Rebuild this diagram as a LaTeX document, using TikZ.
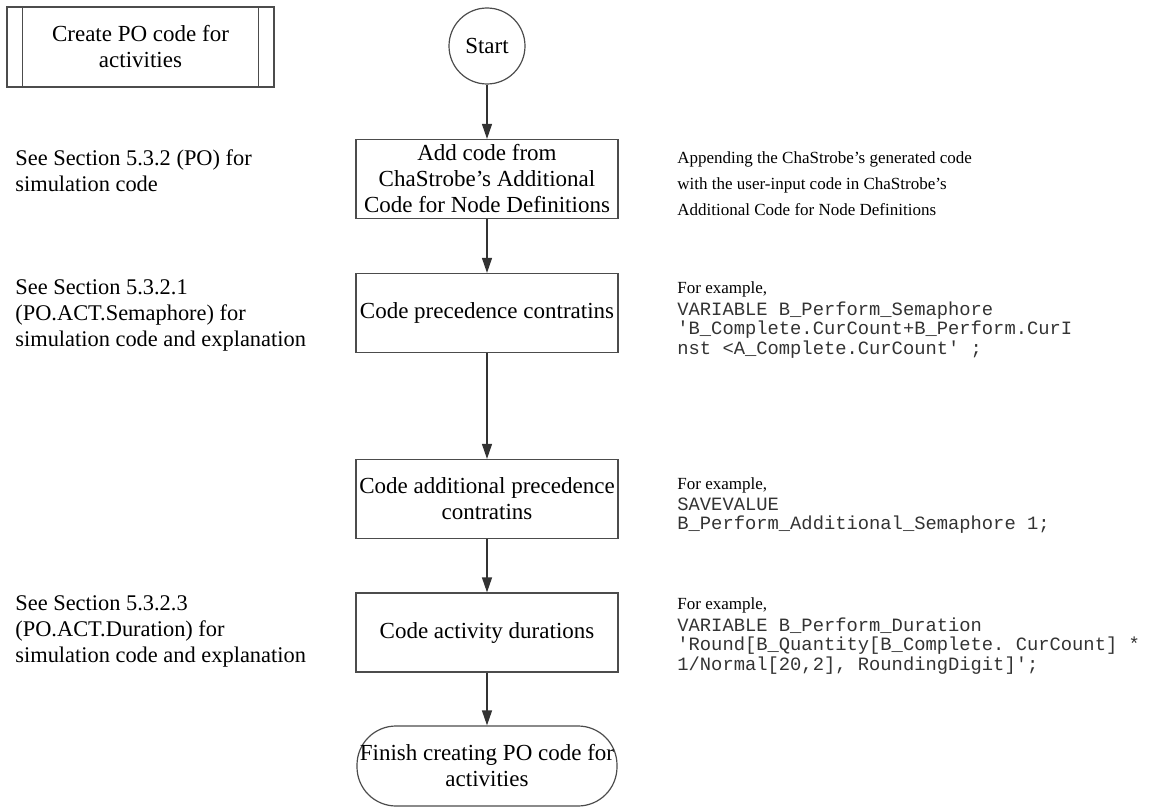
\documentclass[tikz,border=0pt]{standalone}
\usepackage{fontspec}
\setmainfont{Liberation Serif}
\setmonofont{Liberation Mono}
\usetikzlibrary{arrows.meta,positioning}

\newcommand{\boxfont}{\fontsize{11.5}{13}\selectfont}
\newcommand{\sidefont}{\fontsize{11.2}{13}\selectfont}
\newcommand{\notefont}{\fontsize{8.5}{13}\selectfont}
\newcommand{\listingfont}{\fontsize{9.4}{9.8}\selectfont\ttfamily}

\tikzset{
	line/.style={draw=black!70, line width=0.6pt},
	process/.style={line, rectangle, minimum width=131pt, minimum height=39.5pt, align=center, inner xsep=1pt, inner ysep=0pt, font=\boxfont},
	terminal/.style={line, rectangle, rounded corners=19.5pt, minimum width=130pt, minimum height=40pt, align=center, inner xsep=0pt, inner ysep=0pt, font=\boxfont},
	predef/.style={line, rectangle, minimum width=133.5pt, minimum height=40pt, align=center, font=\boxfont},
	startnode/.style={line, circle, minimum size=38pt, inner sep=0pt, font=\boxfont},
	sidenote/.style={anchor=north west, align=left, inner sep=0pt, font=\sidefont},
	note/.style={anchor=north west, align=left, inner sep=0pt, font=\notefont},
	listing/.style={anchor=north west, align=left, inner sep=0pt, text=black!80, font=\listingfont},
	arrow/.style={draw=black!80, line width=0.6pt, -{Triangle[length=7.5pt,width=5pt]}}
}

\begin{document}
\begin{tikzpicture}[x=0.5pt, y=-0.5pt]
	\useasboundingbox (0,0) rectangle (1152,808);

	% predefined process at the top left
	\node[predef] (pp) at (140.5,47) {Create PO code for\\activities};
	\draw[line] ([xshift=8pt]pp.north west) -- ([xshift=8pt]pp.south west);
	\draw[line] ([xshift=-8pt]pp.north east) -- ([xshift=-8pt]pp.south east);

	% main flow
	\node[startnode] (start) at (487,46) {Start};
	\node[process] (add) at (487,179) {Add code from\\ChaStrobe’s Additional\\Code for Node Definitions};
	\node[process] (prec) at (487,313) {Code precedence contratins};
	\node[process] (addprec) at (487,499) {Code additional precedence\\contratins};
	\node[process] (dur) at (487,632.5) {Code activity durations};
	\node[terminal] (finish) at (487,766) {Finish creating PO code for\\activities};

	\draw[arrow] (start) -- (add);
	\draw[arrow] (add) -- (prec);
	\draw[arrow] (prec) -- (addprec);
	\draw[arrow] (addprec) -- (dur);
	\draw[arrow] (dur) -- (finish);

	% references on the left
	\node[sidenote] (see1) at (15,149) {See Section 5.3.2 (PO) for\\simulation code};
	\node[sidenote] (see2) at (15,279) {See Section 5.3.2.1\\(PO.ACT.Semaphore) for\\simulation code and explanation};
	\node[sidenote] (see3) at (15,595) {See Section 5.3.2.3\\(PO.ACT.Duration) for\\simulation code and explanation};

	% notes and examples on the right
	\node[note] (app) at (677,151) {Appending the ChaStrobe’s generated code\\with the user-input code in ChaStrobe’s\\Additional Code for Node Definitions};

	\node[note] (ex1) at (677,281) {For example,};
	\node[listing] (code1) at ([yshift=-2pt]ex1.south west) {VARIABLE B\_Perform\_Semaphore\\'B\_Complete.CurCount+B\_Perform.CurI\\nst <A\_Complete.CurCount' ;};

	\node[note] (ex2) at (677,477) {For example,};
	\node[listing] (code2) at ([yshift=-2pt]ex2.south west) {SAVEVALUE\\B\_Perform\_Additional\_Semaphore 1;};

	\node[note] (ex3) at (677,597) {For example,};
	\node[listing] (code3) at ([yshift=-2pt]ex3.south west) {VARIABLE B\_Perform\_Duration\\'Round[B\_Quantity[B\_Complete. CurCount] *\\1/Normal[20,2], RoundingDigit]';};
\end{tikzpicture}
\end{document}
